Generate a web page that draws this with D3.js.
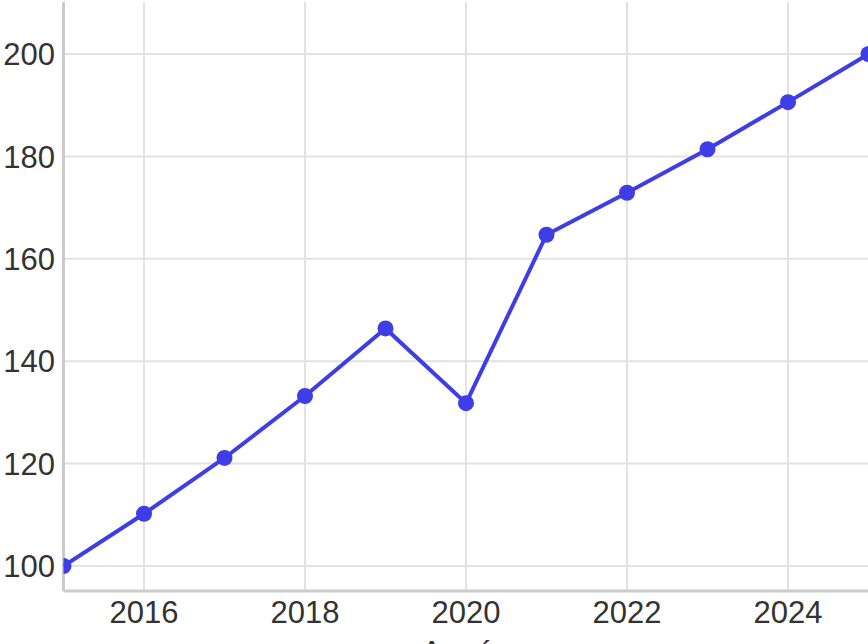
<!DOCTYPE html>
<html>
<head>
<meta charset="utf-8">
<script src="https://cdn.jsdelivr.net/npm/d3@7"></script>
<style>
  body { margin: 0; background: #fff; overflow: hidden; }
  svg { display: block; font-family: "Liberation Sans", Arial, sans-serif; }
</style>
</head>
<body>
<div id="chart"></div>
<script>
(function () {

    const years = [2015, 2016, 2017, 2018, 2019, 2020, 2021, 2022, 2023, 2024, 2025];
    const values = [100, 110.2, 121.1, 133.2, 146.4, 131.8, 164.7, 172.9, 181.4, 190.6, 200];
    const xTicks = [2016, 2018, 2020, 2022, 2024];
    const yTicks = [100, 120, 140, 160, 180, 200];
    const xTitle = 'Année';

    const W = 868, H = 644;

    const chart = d3.select('#chart')
        .append('svg')
        .attr('width', W)
        .attr('height', H);

    // échelles
    const x = d3.scaleLinear()
        .domain([2015, 2025])
        .range([63.5, 868.5]);

    const y = d3.scaleLinear()
        .domain([100, 200])
        .range([566, 54]);

    const top = 2, bottom = 591, left = 63.5, right = W + 10;

    chart.append('clipPath')
        .attr('id', 'plot')
        .append('rect')
        .attr('x', left)
        .attr('y', top)
        .attr('width', right - left)
        .attr('height', bottom - top);

    // grille
    chart.append('g')
        .selectAll('line')
        .data(yTicks)
        .enter()
        .append('line')
        .attr('x1', left)
        .attr('x2', right)
        .attr('y1', d => y(d))
        .attr('y2', d => y(d))
        .attr('stroke', '#e2e2e2')
        .attr('stroke-width', 2);

    chart.append('g')
        .selectAll('line')
        .data(xTicks)
        .enter()
        .append('line')
        .attr('x1', d => x(d))
        .attr('x2', d => x(d))
        .attr('y1', top)
        .attr('y2', bottom)
        .attr('stroke', '#e2e2e2')
        .attr('stroke-width', 2);

    // axes
    chart.append('line')
        .attr('x1', left)
        .attr('x2', left)
        .attr('y1', top)
        .attr('y2', bottom)
        .attr('stroke', '#cccccc')
        .attr('stroke-width', 3);

    chart.append('line')
        .attr('x1', left)
        .attr('x2', right)
        .attr('y1', bottom)
        .attr('y2', bottom)
        .attr('stroke', '#cccccc')
        .attr('stroke-width', 3);

    chart.append('g')
        .selectAll('text')
        .data(yTicks)
        .enter()
        .append('text')
        .attr('x', 55)
        .attr('y', d => y(d))
        .attr('dy', '0.36em')
        .attr('text-anchor', 'end')
        .attr('font-size', 31)
        .attr('fill', '#333')
        .text(d => d);

    chart.append('g')
        .selectAll('text')
        .data(xTicks)
        .enter()
        .append('text')
        .attr('x', d => x(d))
        .attr('y', 623)
        .attr('text-anchor', 'middle')
        .attr('font-size', 31)
        .attr('fill', '#333')
        .text(d => d);

    chart.append('text')
        .attr('x', x(2020))
        .attr('y', 663)
        .attr('text-anchor', 'middle')
        .attr('font-size', 31)
        .attr('fill', '#333')
        .text(xTitle);

    // série
    const data = years.map((d, i) => [d, values[i]]);

    const line = d3.line()
        .x(d => x(d[0]))
        .y(d => y(d[1]));

    const g = chart.append('g')
        .attr('clip-path', 'url(#plot)');

    g.append('path')
        .datum(data)
        .attr('d', line)
        .attr('fill', 'none')
        .attr('stroke', '#3f3de6')
        .attr('stroke-width', 4);

    g.selectAll('circle')
        .data(data)
        .enter()
        .append('circle')
        .attr('cx', d => x(d[0]))
        .attr('cy', d => y(d[1]))
        .attr('r', 8)
        .attr('fill', '#3f3de6');

})();
</script>
</body>
</html>
